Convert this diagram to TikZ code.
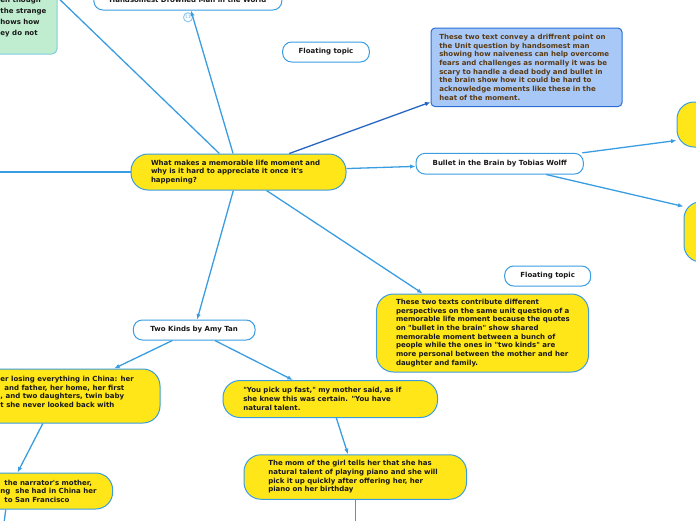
\documentclass[tikz,border=0pt]{standalone}
\usepackage{fontspec}
\setmainfont{DejaVu Sans}[Ligatures=TeXOff]
\usetikzlibrary{arrows.meta}

\definecolor{topicyellow}{HTML}{FFE619}
\definecolor{linkblue}{HTML}{3A9DE2}
\definecolor{notefill}{HTML}{A8C8F8}
\definecolor{noteblue}{HTML}{2A6FD6}
\definecolor{notetext}{HTML}{5A3A12}
\definecolor{mintfill}{HTML}{C0ECCF}
\definecolor{mintline}{HTML}{7DCFE0}

\begin{document}
\begin{tikzpicture}[x=1pt,y=-1pt,line width=1pt,>={Latex[length=5.5pt,width=4.5pt]},
  every node/.style={font=\fontsize{7}{8.67}\selectfont\bfseries,text=black!90,inner sep=0pt},
  bubble/.style={draw=linkblue,fill=topicyellow,rounded corners=17pt,align=left,text width=174pt},
  subtopic/.style={draw=linkblue,fill=white,rounded corners=9pt,minimum height=20pt},
  link/.style={linkblue,line width=1.3pt,->}]
  \useasboundingbox (0,0) rectangle (696,520);
  \clip (0,0) rectangle (696,520);

  % central topic
  \node[bubble,minimum width=215pt,minimum height=36pt,text width=175pt] (central) at (238.5,172)
    {What makes a memorable life moment and\\ why is it hard to appreciate it once it's\\ happening?};

  % cut off at the edges
  \node[draw=mintline,fill=mintfill,rounded corners=5pt,minimum width=118pt,minimum height=228pt] (mint) at (-2,-60) {};
  \node[anchor=west,align=left,font=\fontsize{7}{10.8}\selectfont\bfseries] (minttxt) at (0,17)
    {en though\\ the strange\\ hows how\\ ey do not};
  \node[subtopic,minimum width=188pt] (hdm) at (187.85,0) {Handsomest Drowned Man in the World};
  \node[circle,draw=linkblue!55,fill=white,minimum size=9pt,text=linkblue!70,
    font=\fontsize{4.5}{5}\selectfont] (hdmcount) at (188,17.3) {11};
  \coordinate (offleft) at (-40,172);

  % floating topics
  \node[subtopic,minimum width=86.7pt] (float1) at (326,52) {Floating topic};
  \node[subtopic,minimum width=86pt] (float2) at (547.7,276) {Floating topic};

  % note
  \node[draw=noteblue,fill=notefill,rounded corners=4pt,align=left,text width=174.4pt,
    minimum width=191pt,minimum height=78.5pt,text=notetext] (note) at (526.5,67.3)
    {These two text convey a driffrent point on\\ the Unit question by handsomest man\\
     showing how naiveness can help overcome\\ fears and challenges as normally it was be\\
     scary to handle a dead body and bullet in\\ the brain show how it could be hard to\\
     acknowledge moments like these in the\\ heat of the moment.};

  % bullet in the brain
  \node[subtopic,minimum width=167.3pt,minimum height=20.7pt] (bullet) at (499.7,163.7) {Bullet in the Brain by Tobias Wolff};
  \node[bubble,minimum width=244pt,minimum height=45pt] (bulletq1) at (799,124.5) {};
  \node[bubble,minimum width=218pt,minimum height=60.3pt] (bulletq2) at (793,231.85) {};

  \node[bubble,minimum width=212pt,minimum height=78pt,text width=173pt] (contrib) at (482.5,333)
    {These two texts contribute different\\ \mbox{perspectives on the same unit question of a}\\
     \mbox{memorable life moment because the quotes}\\ on "bullet in the brain" show shared\\
     memorable moment between a bunch of\\ \mbox{people while the ones in "two kinds" are}\\
     \mbox{more personal between the mother and her}\\ daughter and family.};

  % two kinds
  \node[subtopic,minimum width=121.7pt] (kinds) at (194.2,330) {Two Kinds by Amy Tan};
  \node[bubble,minimum width=206pt,minimum height=54pt] (kinds1) at (57,396) {};
  \node[anchor=west,align=left] (kinds1txt) at (0,391.8)
    {er losing everything in China: her\\ \hspace*{4pt}and father, her home, her first\\
     , and two daughters, twin baby\\ t she never looked back with};
  \node[bubble,minimum width=209.4pt,minimum height=36pt] (narr) at (8,491) {};
  \node[anchor=west,align=left] (narrtxt) at (0,491.3)
    {\hspace*{4pt}the narrator's mother,\\ ng~ she had in China her\\ \hspace*{4pt}to San Francisco};
  \node[bubble,minimum width=214.5pt,minimum height=37pt,text width=173.9pt] (pickup) at (330.25,399)
    {"You pick up fast," my mother said, as if\\ she knew this was certain. "You have\\ natural talent.};
  \node[bubble,minimum width=222.5pt,minimum height=44.5pt,text width=173.9pt] (mom) at (355.25,477)
    {The mom of the girl tells her that she has\\ \mbox{natural talent of playing piano and she will}\\
     pick it up quickly after offering her, her\\ piano on her birthday};
  \coordinate (offnarr) at (0,556);
  \coordinate (offmom) at (355.25,560);

  % connectors
  \draw[link] (central) -- (hdm);
  \draw[linkblue,line width=1.3pt] (central) -- (mint);
  \draw[linkblue,line width=1.3pt] (central) -- (offleft);
  \draw[link,draw=noteblue!90!black] (central) -- (note);
  \draw[link] (central) -- (bullet);
  \draw[link] (central) -- (contrib);
  \draw[link] (central) -- (kinds);
  \draw[link] (bullet) -- (bulletq1);
  \draw[link] (bullet) -- (bulletq2);
  \draw[link] (kinds) -- (kinds1);
  \draw[link] (kinds) -- (pickup);
  \draw[link] (kinds1) -- (narr);
  \draw[link] (pickup) -- (mom);
  \draw[linkblue,line width=1.3pt] (narr) -- (offnarr);
  \draw[linkblue,line width=1.3pt] (mom) -- (offmom);
\end{tikzpicture}
\end{document}
